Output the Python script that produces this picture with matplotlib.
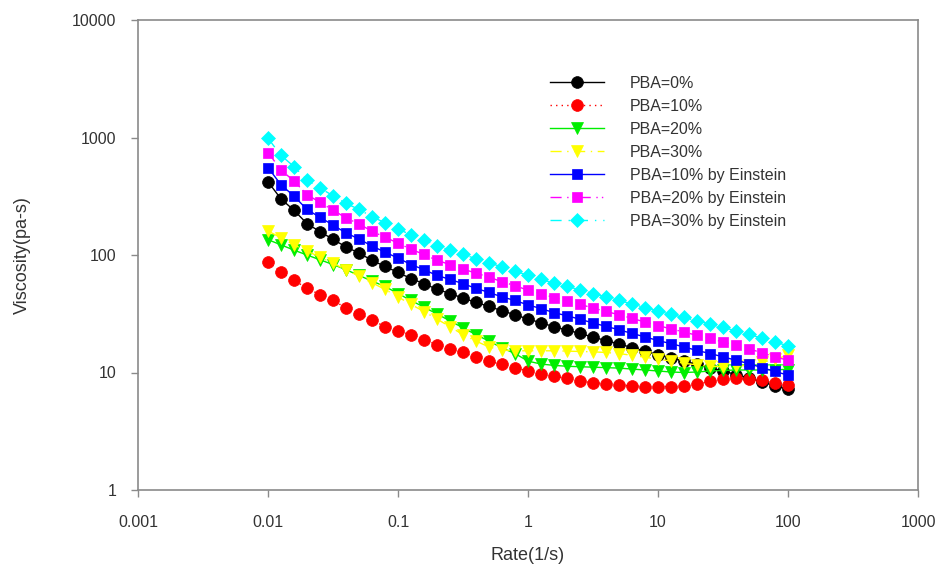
import numpy as np
import matplotlib
matplotlib.use("Agg")
import matplotlib.pyplot as plt

plt.rcParams['font.family'] = ['Liberation Sans', 'DejaVu Sans']

# Shear rate (1/s): 10 points per decade from 0.01 to 100
rate = np.logspace(-2, 2, 41)

pba_0 = [420, 300, 240, 185, 158, 136, 117, 104, 90, 80,
         71, 63, 57, 51, 47, 43, 39.5, 36.5, 33.5, 31,
         28.5, 26.5, 24.5, 23, 21.5, 20, 18.7, 17.5, 16.3, 15.2,
         14.2, 13.3, 12.5, 11.7, 11, 10.3, 9.6, 9, 8.3, 7.7, 7.2]

pba_10 = [88, 72, 61, 52, 46, 41, 35.5, 31.5, 28, 24.5,
          22.5, 21, 19, 17.2, 16, 14.8, 13.5, 12.5, 11.7, 11,
          10.3, 9.8, 9.3, 8.9, 8.5, 8.2, 8.0, 7.8, 7.7, 7.6,
          7.6, 7.6, 7.7, 8.0, 8.4, 8.8, 8.9, 8.8, 8.6, 8.2, 7.9]

pba_20 = [135, 122, 110, 100, 91, 83, 75, 67, 60, 54,
          47, 41, 36, 31.5, 27.5, 24, 21, 18.5, 16.2, 14.5,
          12.5, 11.8, 11.5, 11.3, 11.2, 11.1, 11.0, 10.9, 10.7, 10.5,
          10.3, 10.1, 10.0, 10.1, 10.3, 10.4, 10.5, 10.5, 10.5, 10.6, 10.6]

pba_30 = [160, 140, 122, 108, 96, 85, 75, 66, 58, 51,
          44, 38, 33, 28.5, 24.5, 21, 18.5, 16.5, 15.5, 15.3,
          15.3, 15.3, 15.3, 15.2, 15.1, 15.0, 14.8, 14.5, 14.0, 13.5,
          13.0, 12.5, 12.0, 11.6, 11.3, 11.2, 11.3, 11.6, 12.2, 13.0, 14.0]

pba_10_einstein = [555, 396, 317, 244, 209, 180, 154, 137, 119, 106,
                   94, 83, 75, 67, 62, 57, 52, 48, 44, 41,
                   37.6, 35, 32.3, 30.4, 28.4, 26.4, 24.7, 23.1, 21.5, 20.1,
                   18.7, 17.6, 16.5, 15.4, 14.5, 13.6, 12.7, 11.9, 11, 10.2, 9.5]

pba_20_einstein = [745, 530, 425, 327, 280, 241, 207, 184, 159, 142,
                   126, 112, 101, 90, 83, 76, 70, 65, 59, 55,
                   50, 47, 43.4, 40.7, 38, 35.4, 33.1, 31, 28.9, 26.9,
                   25.1, 23.5, 22.1, 20.7, 19.5, 18.2, 17, 15.9, 14.7, 13.6, 12.7]

pba_30_einstein = [985, 705, 565, 435, 371, 320, 275, 244, 212, 188,
                   167, 148, 134, 120, 110, 101, 93, 86, 79, 73,
                   67, 62, 57.6, 54, 50.5, 47, 44, 41, 38.3, 35.7,
                   33.4, 31.3, 29.4, 27.5, 25.9, 24.2, 22.6, 21.2, 19.5, 18.1, 16.9]

labels = ["PBA=0%", "PBA=10%", "PBA=20%", "PBA=30%",
          "PBA=10% by Einstein", "PBA=20% by Einstein", "PBA=30% by Einstein"]

series = [pba_0, pba_10, pba_20, pba_30,
          pba_10_einstein, pba_20_einstein, pba_30_einstein]

styles = [
    dict(color="#000000", marker="o", ls="-", ms=8.5),
    dict(color="#ff0000", marker="o", ls=(0, (1, 3)), ms=8.5),
    dict(color="#00ee00", marker="v", ls="-", ms=9),
    dict(color="#ffff00", marker="v", ls=(0, (8, 4, 1, 4)), ms=9),
    dict(color="#0000ff", marker="s", ls="-", ms=7.5),
    dict(color="#ff00ff", marker="s", ls=(0, (8, 4, 1, 3, 1, 4)), ms=7.5),
    dict(color="#00ffff", marker="D", ls=(0, (8, 5, 1, 5)), ms=7.5),
]

fig = plt.figure(figsize=(9.46, 5.72), dpi=100)
ax = fig.add_axes([138 / 946, 1 - 490 / 572, (918 - 138) / 946, (490 - 20) / 572])

for y, lab, st in zip(series, labels, styles):
    ax.plot(rate, y, color=st["color"], marker=st["marker"], ls=st["ls"],
            lw=1.0, ms=st["ms"], mec=st["color"], mew=0.5, label=lab)

ax.set_xscale("log")
ax.set_yscale("log")
ax.set_xlim(0.001, 1000)
ax.set_ylim(1, 10000)

ax.set_xticks([0.001, 0.01, 0.1, 1, 10, 100, 1000])
ax.set_xticklabels(["0.001", "0.01", "0.1", "1", "10", "100", "1000"])
ax.set_yticks([1, 10, 100, 1000, 10000])
ax.set_yticklabels(["1", "10", "100", "1000", "10000"])
ax.minorticks_off()

for sp in ax.spines.values():
    sp.set_color("#8a8a8a")
    sp.set_linewidth(1.2)
ax.tick_params(axis="both", which="major", direction="out", length=5,
               width=1.0, color="#8a8a8a", labelsize=11.5, labelcolor="#333333")
ax.tick_params(axis="x", pad=13)
ax.tick_params(axis="y", pad=10.5)

ax.set_xlabel("Rate(1/s)", fontsize=13, color="#333333", labelpad=12)
ax.set_ylabel("Viscosity(pa-s)", fontsize=13, color="#333333", labelpad=30)

leg = ax.legend(loc="upper left", bbox_to_anchor=(0.52, 0.895), frameon=False,
                fontsize=11.5, handlelength=3.4, handletextpad=1.6,
                labelspacing=0.5, borderaxespad=0)
for t in leg.get_texts():
    t.set_color("#333333")

fig.savefig("out.png", dpi=100)
